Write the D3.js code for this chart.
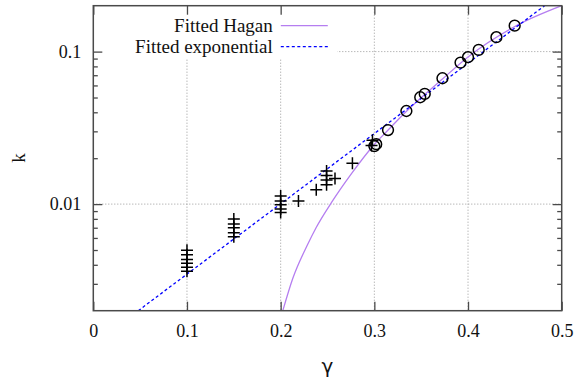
<!DOCTYPE html>
<html>
<head>
<meta charset="utf-8">
<script src="https://cdn.jsdelivr.net/npm/d3@7"></script>
<style>
  html, body { margin: 0; padding: 0; background: #fff; }
  svg { display: block; }
  text { font-family: "Liberation Serif", "Times New Roman", serif; fill: #111; }
</style>
</head>
<body>
<div id="chart"></div>
<script>
// Measured points: crosses (+) and circles (o)
const crossGamma = [0.1, 0.1, 0.1, 0.1, 0.1, 0.1,
  0.15, 0.15, 0.15, 0.15, 0.15,
  0.2, 0.2, 0.2, 0.2, 0.2,
  0.219, 0.238, 0.249, 0.249, 0.249, 0.249, 0.258, 0.2766, 0.298, 0.297];
const crossK = [0.00499, 0.00466, 0.00434, 0.00409, 0.00385, 0.00363,
  0.0080, 0.0074, 0.0070, 0.0065, 0.0061,
  0.0113, 0.0105, 0.0099, 0.0093, 0.0088,
  0.0105, 0.0124, 0.0165, 0.0154, 0.0144, 0.0134, 0.0147, 0.0185, 0.0262, 0.0242];

const circleGamma = [0.300, 0.302, 0.3146, 0.3342, 0.349, 0.3538, 0.3727, 0.392, 0.400, 0.4114, 0.4303, 0.4498];
const circleK = [0.0240, 0.0247, 0.0306, 0.0408, 0.0502, 0.0528, 0.0669, 0.0847, 0.0919, 0.1026, 0.1243, 0.148];

// Fitted curves
const haganGamma = [0.2023, 0.2129, 0.2289, 0.2378, 0.2545, 0.2756, 0.3004, 0.3147, 0.3343, 0.3727, 0.400, 0.450, 0.500];
const haganK = [0.002, 0.00325, 0.00545, 0.00700, 0.0103, 0.01585, 0.0248, 0.0306, 0.0406, 0.0661, 0.0923, 0.1462, 0.2];

const expGamma = [0.048, 0.4818];
const expK = [0.002, 0.2];

// Axis ticks
const xTicks = [0, 0.1, 0.2, 0.3, 0.4, 0.5];
const yTicks = [0.01, 0.1];
const yTickLabels = ["0.01", "0.1"];
const yMinor = [0.003, 0.004, 0.005, 0.006, 0.007, 0.008, 0.009,
  0.02, 0.03, 0.04, 0.05, 0.06, 0.07, 0.08, 0.09];

const legendLabels = ["Fitted Hagan", "Fitted exponential"];

const width = 577, height = 377;
const margin = { top: 5.7, right: 15.3, bottom: 66.3, left: 93.3 };
const innerW = width - margin.left - margin.right;
const innerH = height - margin.top - margin.bottom;

const frameColor = "#4a4a4a";
const haganColor = "#b57ef0";
const expColor = "#0000ff";
const serif = "'Liberation Serif', 'Times New Roman', serif";

const svg = d3.select("#chart").append("svg")
  .attr("width", width)
  .attr("height", height);

const g = svg.append("g").attr("transform", `translate(${margin.left},${margin.top})`);

const x = d3.scaleLinear().domain([0, 0.5]).range([0, innerW]);
const y = d3.scaleLog().domain([0.002, 0.2]).range([innerH, 0]);

g.append("defs").append("clipPath").attr("id", "plot-clip")
  .append("rect").attr("width", innerW).attr("height", innerH);

// grid
const grid = g.append("g").attr("stroke", "#9a9a9a").attr("stroke-width", 1).attr("stroke-dasharray", "1,2");
grid.selectAll("line.gx").data(xTicks.slice(1, -1)).enter().append("line")
  .attr("x1", d => x(d)).attr("x2", d => x(d))
  .attr("y1", 0).attr("y2", innerH);
grid.selectAll("line.gy").data(yTicks).enter().append("line")
  .attr("x1", 0).attr("x2", innerW)
  .attr("y1", d => y(d)).attr("y2", d => y(d));

// opaque key box over the grid
g.append("rect")
  .attr("x", 0).attr("y", 0)
  .attr("width", 244).attr("height", 52.5)
  .attr("fill", "#fff");

const plot = g.append("g").attr("clip-path", "url(#plot-clip)");

const line = d3.line()
  .x(d => x(d[0]))
  .y(d => y(d[1]));

plot.append("path")
  .datum(d3.zip(haganGamma, haganK))
  .attr("fill", "none")
  .attr("stroke", haganColor)
  .attr("stroke-width", 1.3)
  .attr("d", line.curve(d3.curveMonotoneX));

plot.append("path")
  .datum(d3.zip(expGamma, expK))
  .attr("fill", "none")
  .attr("stroke", expColor)
  .attr("stroke-width", 1.3)
  .attr("stroke-dasharray", "3,2.5")
  .attr("d", line.curve(d3.curveLinear));

// crosses
const cs = 6;
plot.selectAll("path.cross")
  .data(d3.zip(crossGamma, crossK))
  .enter().append("path")
  .attr("class", "cross")
  .attr("d", d => {
    const cx = x(d[0]), cy = y(d[1]);
    return `M${cx - cs},${cy}H${cx + cs}M${cx},${cy - cs}V${cy + cs}`;
  })
  .attr("stroke", "#000")
  .attr("stroke-width", 1.5)
  .attr("fill", "none");

// circles
plot.selectAll("circle")
  .data(d3.zip(circleGamma, circleK))
  .enter().append("circle")
  .attr("cx", d => x(d[0]))
  .attr("cy", d => y(d[1]))
  .attr("r", 5.4)
  .attr("fill", "none")
  .attr("stroke", "#000")
  .attr("stroke-width", 1.5);

// axes
function styleAxis(sel) {
  sel.attr("font-family", serif);
  sel.select(".domain").remove();
  sel.selectAll(".tick line").attr("stroke", frameColor).attr("stroke-width", 1.3);
  sel.selectAll(".tick text").attr("font-size", 18).attr("fill", "#111")
    .style("font-family", serif);
}

g.append("g")
  .attr("transform", `translate(0,${innerH})`)
  .call(d3.axisBottom(x).tickValues(xTicks).tickSize(-9).tickPadding(14).tickFormat(d3.format("")))
  .call(styleAxis);

g.append("g")
  .call(d3.axisTop(x).tickValues(xTicks).tickSize(-9).tickFormat(""))
  .call(styleAxis);

g.append("g")
  .call(d3.axisLeft(y).tickValues(yTicks).tickSize(-9).tickPadding(12)
    .tickFormat((d, i) => yTickLabels[i]))
  .call(styleAxis);

g.append("g")
  .call(d3.axisLeft(y).tickValues(yMinor).tickSize(-4.5).tickFormat(""))
  .call(styleAxis);

g.append("g")
  .attr("transform", `translate(${innerW},0)`)
  .call(d3.axisRight(y).tickValues(yTicks).tickSize(-9).tickFormat(""))
  .call(styleAxis);

g.append("g")
  .attr("transform", `translate(${innerW},0)`)
  .call(d3.axisRight(y).tickValues(yMinor).tickSize(-4.5).tickFormat(""))
  .call(styleAxis);

// frame
g.append("rect")
  .attr("width", innerW).attr("height", innerH)
  .attr("fill", "none")
  .attr("stroke", frameColor)
  .attr("stroke-width", 1.5);

// legend
const legend = g.append("g");
const legendColors = [haganColor, expColor];
const legendDash = [null, "3,2.5"];
legendLabels.forEach((label, i) => {
  const ly = 20 + i * 21;
  legend.append("text")
    .attr("x", 179.5).attr("y", ly)
    .attr("dy", "0.35em")
    .attr("text-anchor", "end")
    .attr("font-size", 19)
    .text(label);
  legend.append("line")
    .attr("x1", 187.5).attr("x2", 234.5)
    .attr("y1", ly).attr("y2", ly)
    .attr("stroke", legendColors[i])
    .attr("stroke-width", 1.3)
    .attr("stroke-dasharray", legendDash[i]);
});

// axis titles
svg.append("text")
  .attr("x", margin.left + x(0.25)).attr("y", 366)
  .attr("dy", "0.35em")
  .attr("text-anchor", "middle")
  .attr("font-size", 20)
  .style("font-family", "'DejaVu Sans', sans-serif")
  .text("γ");

svg.append("text")
  .attr("transform", "translate(18,158) rotate(-90)")
  .attr("dy", "0.35em")
  .attr("text-anchor", "middle")
  .attr("font-size", 19)
  .text("k");
</script>
</body>
</html>
